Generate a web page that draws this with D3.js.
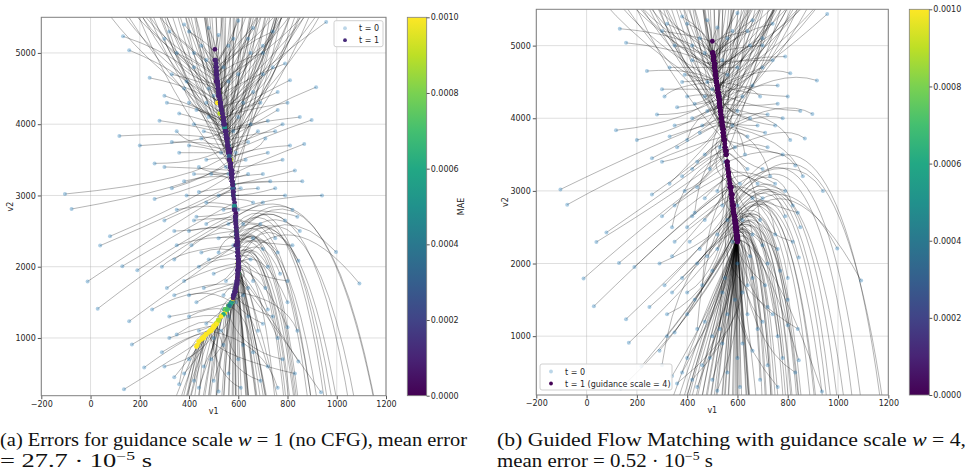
<!DOCTYPE html>
<html>
<head>
<meta charset="UTF-8" />
<style>
  body { margin: 0; background: #fff; }
  svg { display: block; }
  .tick text { font-family: "DejaVu Sans", sans-serif; font-size: 8px; fill: #262626; }
  .tick line { stroke: #555; }
  .grid line { stroke: #b0b0b0; stroke-opacity: 0.5; stroke-width: 0.8; }
  .traj { fill: none; stroke: #000; stroke-opacity: 0.37; stroke-width: 0.8; }
  .lab { font-family: "DejaVu Sans", sans-serif; font-size: 8px; fill: #262626; }
  .cap { font-family: "Liberation Serif", serif; font-size: 18px; fill: #111; }
</style>
<script src="https://d3js.org/d3.v7.min.js"></script>
</head>
<body>
<svg width="968" height="475"></svg>
<script>
// axis ticks
const xTicks = [-200, 0, 200, 400, 600, 800, 1000, 1200];
const yTicks = [1000, 2000, 3000, 4000, 5000];
const cbTicks = [0, 0.0002, 0.0004, 0.0006, 0.0008, 0.001];

// t = 0 positions (same noise in both runs), some lie outside the view
const starts = [
  [132,5233],[157,5038],[117,3835],[-104,3020],[-77,2810],[-12,1793],[29,1411],[79,2427],[39,2296],[129,2007],
  [190,1951],[157,1234],[168,908],[218,586],[136,279],[250,1400],[260,3450],[200,3700],[240,4650],[300,4400],
  [320,5300],[280,4050],[330,3100],[300,2650],[340,2100],[310,1700],[350,1050],[290,800],[340,450],[260,2950],
  [380,5400],[420,4800],[400,4300],[450,3800],[420,3300],[470,2900],[400,2500],[450,2200],[380,1800],[430,1500],
  [470,1200],[400,700],[460,600],[500,400],[520,5250],[480,4500],[530,3600],[520,3000],[500,1900],[540,900],
  [600,5450],[650,5000],[700,4700],[620,4300],[680,3900],[640,3300],[700,2900],[660,2400],[720,2000],[620,1600],
  [680,1100],[720,600],[760,4200],[780,3500],[750,3100],[790,4850],[740,5300],[600,2800],[580,3900],[640,1300],
  [957,5434],[916,4520],[898,4059],[868,3723],[810,4618],[940,3000],[1092,1765],[997,2208],[844,2083],[850,2500],
  [790,2650],[844,670],[936,237],[800,1500],[830,3350],[770,1900],[760,1000],[560,4600],[450,5100],[660,4450],
  [520,2400],[560,1300],[420,4000],[360,3600],[600,2000],
  [250,5800],[270,6300],[290,5700],[310,6100],[330,5900],[350,6500],[370,5700],[390,6200],[410,5800],[430,6400],
  [450,5900],[470,6100],[490,5700],[510,6300],[530,5800],[550,6000],[570,5700],[590,6200],[610,5900],[630,6400],
  [650,5700],[670,6100],[690,5800],[710,6300],[730,5900],[750,6200],[770,5700],[790,6000],[810,6400],[840,5800],
  [870,6100],[900,6300],[930,5900],[960,6500],[1000,6200],[300,6700],[420,7000],[520,6800],[600,7000],[680,6800],
  [760,7000],[850,6800],[380,5600],[460,5600],[540,5600],[620,5600],[700,5600],[780,5600],[440,6600],[560,6500],
  [640,6600],[720,6600],[820,6200],[580,5800],[500,6000],[660,6000],[400,6000],[740,5800],
  [250,-800],[280,-1400],[310,-500],[330,-1100],[350,-300],[370,-1500],[390,-700],[410,-1200],[430,-400],[450,-1000],
  [470,-1500],[490,-600],[510,-1100],[530,-300],[550,-900],[570,-1400],[590,-500],[610,-1000],[630,-1500],[650,-700],
  [670,-1200],[690,-400],[710,-900],[730,-1400],[750,-600],[770,-1100],[790,-300],[810,-800],[830,-1300],[850,-500],
  [870,-1000],[890,-1500],[910,-700],[940,-1200],[970,-400],[1000,-900],[1040,-1400],[1080,-600],[1130,-1100],[1200,-800],
  [300,-2000],[400,-2200],[500,-2400],[600,-2100],[700,-2500],[800,-2300],[900,-2600],[1000,-2200],[1100,-2500],[1250,-2000],
  [560,-200],[640,-250],[720,-200],[460,-250],[380,-200],[600,-1700],[680,-1900],[760,-1700],[520,-1800],[440,-1900],
  [860,-2000],[960,-1800],[340,-600],[580,-800],[660,-600],[740,-300],[820,-200],
  [350,5000],[390,4600],[360,4150],[480,4100],[330,3750],[470,3500],[380,3200],[440,3050],[350,2800],[420,2650],
  [350,2300],[440,2000],[340,1600],[400,1300],[320,1000],[380,500],[440,300],[560,500],[620,900],[660,1800],
  [700,2250],[620,2600],[680,3100],[720,3600],[640,3750],[720,4050],[760,4450],[700,5100],[660,5350],[560,5100],
  [470,4300],[600,4100],[560,3300],[560,2600],[540,1600],[750,2400],[820,2800],[800,1150],[720,1400],[780,4000],
  [100,5700],[140,6000],[180,5650],[210,5900],[150,6300],[230,6200],[60,6100],[200,5600],[260,6000],[120,5800],
  [280,5600],[20,5800],[170,5750],[240,5700],[90,6400],[800,5650],[850,5900],[880,5600],[920,5800],[780,5900],
  [830,6100],[900,6000],[760,5650],[950,5700],[870,5750],[720,5700],[810,5800],[990,5900],[740,6100],[860,6300],
  [300,5200],[330,4700],[310,4300],[350,3900],[300,3400],[340,2500],[290,2000],[320,1300],[300,600],[360,350],
  [400,5300],[420,5000],[380,4500],[430,4200],[400,3700],[440,3400],[390,3000],[430,2700],[410,2300],[400,1600],
  [440,1100],[420,400],[480,5350],[470,4900],[500,4400],[460,3900],[490,3300],[470,2600],[480,2100],[460,1700],
  [500,1000],[490,700],[540,4800],[530,4300],[550,3400],[540,2800],[520,2200],[550,1800],[530,1100],[520,250],
  [580,5200],[600,4700],[590,3600],[610,3100],[580,2300],[590,1500],[600,700],[610,300],[640,5200],[650,4000],
  [630,3500],[660,2900],[650,2100],[640,1700],[660,800],[700,5000],[690,4300],[710,3800],[700,3300],[690,2600],
  [710,1700],[700,1200],[690,400],[740,4800],[750,3900],[730,3200],[760,2200],[740,1300],[780,700],[760,300],
  [800,4300],[810,3700],[790,3000],[820,2300],[800,1800],[840,1100],[850,4100],[860,3200],[840,2700],[830,500]
];

// (a) w = 1: [bend x, bend y, t = 1 x, t = 1 y, MAE]
const pathA = [
  [420,4900,515,4300,0.001],[400,4700,525,4150,0.0009],[430,3900,555,3750,0.0003],[440,3200,565,3600,0.0001],[400,3100,570,3450,0.00008],
  [380,2700,580,3100,0.0001],[400,2400,590,2700,0.00006],[400,2900,575,3300,0.00012],[380,2800,580,3150,0.0006],[420,2600,585,2900,0.0001],
  [440,2500,590,2750,0.00005],[420,1900,590,2300,0.0001],[400,1400,530,1300,0.001],[420,1100,490,1100,0.001],[380,800,440,950,0.001],
  [450,1800,575,1500,0.0008],[470,3450,560,3700,0.0005],[460,3750,550,3900,0.0001],[460,4500,530,4200,0.0004],[470,4200,540,4050,0.0001],
  [470,4900,510,4600,0.00005],[480,3950,550,3850,0.00015],[480,3250,570,3500,0.0009],[460,2900,580,3100,0.0001],[480,2500,590,2650,0.0005],
  [470,2100,595,2300,0.0001],[450,1300,510,1200,0.0009],[430,1100,470,1050,0.001],[470,1000,545,1400,0.0005],[470,3150,575,3350,0.0001],
  [480,5000,505,4900,0.00005],[490,4550,520,4400,0.0001],[500,4100,540,4000,0.0002],[520,3650,560,3600,0.00008],[510,3300,575,3300,0.0001],
  [540,2900,585,2850,0.0006],[500,2600,592,2500,0.0001],[530,2300,598,2200,0.00008],[500,2000,598,2050,0.0009],[520,1700,590,1700,0.0003],
  [520,1350,560,1450,0.001],[470,950,460,1000,0.001],[520,1000,520,1250,0.0006],[560,1000,580,1600,0.0001],[510,5100,505,5050,0.00005],
  [510,4450,525,4350,0.0001],[555,3650,565,3650,0.0001],[560,3050,580,3050,0.0001],[560,2000,600,2000,0.0005],[560,1100,500,1150,0.001],
  [540,5000,510,4800,0.00005],[570,4700,520,4450,0.0001],[600,4400,535,4150,0.0001],[580,4100,545,3950,0.0003],[610,3700,560,3650,0.0006],
  [600,3250,575,3250,0.0001],[640,2800,588,2700,0.0001],[640,2500,597,2250,0.0004],[660,2400,600,2100,0.0001],[620,2000,600,1900,0.0007],
  [640,1900,595,1800,0.0002],[640,1500,585,1650,0.0003],[640,3950,555,3800,0.0001],[660,3400,570,3400,0.0001],[650,3000,580,3000,0.0007],
  [640,4650,520,4400,0.0001],[600,5100,510,4700,0.00005],[600,2850,585,2850,0.0001],[565,3850,555,3800,0.0001],[620,1900,598,1950,0.0001],
  [700,4800,530,4200,0.0001],[720,4250,550,3850,0.0001],[720,3850,565,3600,0.0001],[700,3500,575,3300,0.0001],[680,4400,535,4100,0.0009],
  [760,3000,585,2800,0.0001],[800,3000,600,2000,0.0001],[780,3000,598,2150,0.0006],[720,2900,600,2050,0.0001],[720,2900,595,2300,0.0001],
  [700,2900,592,2450,0.0005],[680,1600,598,1900,0.0001],[700,1400,596,1850,0.001],[700,2300,600,2050,0.0001],[720,3250,578,3150,0.0001],
  [700,2500,598,2150,0.0001],[660,1800,597,1950,0.0001],[530,4500,520,4450,0.0001],[490,4900,510,4750,0.0001],[590,4250,540,4050,0.0001],
  [570,2450,594,2400,0.0001],[600,1600,560,1450,0.0004],[510,3950,548,3900,0.0001],[480,3600,562,3600,0.0001],[610,2100,600,2050,0.0001],
  [371,4600,553,3800,0.0001],[386,4680,561,3600,0.0001],[391,4680,543,4000,0.0001],[409,4660,557,3700,0.0001],[411,4880,533,4200,0.0006],
  [429,4940,548,3900,0.0001],[431,4920,522,4400,0.0001],[449,4940,538,4100,0.0001],[452,5080,515,4600,0.0001],[469,5140,527,4300,0.0001],
  [474,5240,510,4800,0.0001],[489,5140,518,4500,0.0001],[497,5220,508,4900,0.0001],[511,5340,512,4700,0.0001],[531,4840,533,4200,0.001],
  [547,4800,543,4000,0.0001],[563,4560,553,3800,0.0001],[578,4640,561,3600,0.0001],[575,5000,522,4400,0.0001],[593,5020,538,4100,0.0001],
  [595,5100,512,4700,0.0001],[621,4780,548,3900,0.0001],[640,4420,565,3500,0.0001],[637,5100,527,4300,0.0001],[661,4580,557,3700,0.0001],
  [657,5180,518,4500,0.0001],[679,4680,543,4000,0.0005],[698,4560,561,3600,0.0001],[699,5080,533,4200,0.0001],[725,4600,553,3800,0.0001],
  [731,5080,522,4400,0.0001],[766,4620,565,3500,0.0001],[773,4820,538,4100,0.0001],[799,4820,557,3700,0.0001],[811,5060,527,4300,0.0001],
  [387,5380,518,4500,0.0001],[469,5200,543,4000,0.0001],[538,4820,565,3500,0.0001],[571,5380,527,4300,0.0001],[614,5480,515,4600,0.0001],
  [675,5140,548,3900,0.0001],[715,5540,512,4700,0.0001],[454,4340,565,3500,0.0001],[499,4460,557,3700,0.0008],[553,4220,572,3300,0.0001],
  [599,4280,568,3400,0.0001],[635,4700,538,4100,0.0001],[697,4220,572,3300,0.0001],[485,4920,553,3800,0.0001],[540,5480,510,4800,0.0001],
  [607,4860,557,3700,0.0001],[649,5040,543,4000,0.0001],[711,4820,548,3900,0.0001],[578,4240,575,3200,0.0001],[527,4440,568,3400,0.0009],
  [626,4320,575,3200,0.0001],[469,4380,572,3300,0.0001],[675,4180,578,3100,0.0001],
  [336,163,440,950,0.001],[348,-146,430,880,0.001],[375,325,455,1000,0.0009],[392,83,468,1050,0.001],[411,470,485,1100,0.0006],
  [408,-125,455,1000,0.001],[440,318,500,1150,0.001],[456,120,512,1200,0.0008],[470,508,520,1250,0.001],[486,265,530,1300,0.0005],
  [504,68,545,1350,0.001],[519,500,555,1400,0.0009],[533,303,562,1450,0.0006],[549,690,572,1500,0.0004],[563,448,578,1550,0.001],
  [575,250,582,1600,0.0002],[589,683,587,1650,0.0001],[601,485,590,1700,0.0001],[613,288,593,1750,0.0003],[625,675,595,1800,0.0001],
  [637,478,597,1850,0.0001],[649,865,598,1900,0.0001],[660,668,599,1950,0.00008],[672,470,600,2000,0.0001],[683,858,600,2050,0.0001],
  [694,660,600,2100,0.0001],[704,1048,599,2150,0.0001],[736,2530,598,2200,0.0001],[749,2640,598,2250,0.0001],[761,2750,597,2300,0.0001],
  [774,2860,596,2350,0.0001],[787,2970,595,2400,0.0001],[799,3080,594,2450,0.0006],[818,3220,592,2500,0.0001],[837,3360,591,2550,0.0001],
  [857,3500,590,2600,0.0001],[884,3420,595,2400,0.0001],[909,3640,592,2500,0.0001],[943,3590,597,2300,0.0001],[988,3950,594,2450,0.0001],
  [360,-405,434,900,0.001],[427,-429,460,1020,0.001],[507,-409,515,1220,0.0009],[591,-76,580,1580,0.0003],[654,-97,597,1870,0.0001],
  [730,2300,600,2000,0.0001],[795,2750,599,2150,0.0001],[860,3150,598,2250,0.0001],[924,3550,596,2350,0.0001],[1020,4150,592,2500,0.0001],
  [564,724,569,1480,0.0006],[618,834,591,1720,0.0001],[666,983,599,1950,0.0001],[494,614,535,1320,0.001],[430,526,492,1120,0.001],
  [593,126,584,1620,0.0002],[642,146,596,1820,0.0001],[688,379,600,2080,0.0001],[538,-23,560,1430,0.0008],[470,-206,507,1180,0.001],
  [768,2680,598,2200,0.0001],[833,3100,596,2320,0.0001],[390,269,450,980,0.001],[580,498,579,1560,0.0001],[630,709,594,1780,0.0001],
  [677,954,600,1980,0.0001],[743,2480,600,2120,0.0001],
  [470,4800,514,4640,0.0001],[480,4400,527,4300,0.0001],[480,4050,545,3950,0.0001],[520,4000,545,3950,0.0005],[470,3750,557,3700,0.0001],
  [530,3550,565,3500,0.0001],[490,3300,573,3250,0.0001],[520,3100,578,3100,0.0003],[480,2900,585,2800,0.0001],[510,2700,589,2650,0.0001],
  [480,2450,595,2400,0.0001],[530,2150,600,2100,0.0001],[480,1800,592,1750,0.0002],[480,1450,548,1400,0.0008],[440,1150,500,1170,0.001],
  [460,800,480,1080,0.001],[500,900,540,1330,0.0006],[580,1100,588,1650,0.0001],[610,1400,596,1760,0.0001],[640,2200,600,2050,0.0001],
  [660,2600,597,2300,0.0004],[610,2700,592,2550,0.0001],[630,3100,580,3050,0.0001],[640,3550,568,3450,0.0001],[600,3700,560,3650,0.0001],
  [640,3950,550,3900,0.0001],[660,4300,540,4080,0.0001],[620,4900,520,4450,0.0001],[580,5100,512,4750,0.0001],[530,4950,510,4850,0.0001],
  [510,4200,535,4150,0.0001],[580,4000,550,3900,0.0001],[570,3300,573,3250,0.0001],[580,2650,590,2600,0.0001],[580,1800,590,1700,0.0001],
  [700,2800,596,2350,0.0001],[720,3000,588,2700,0.0001],[700,1900,600,1980,0.0001],[660,2000,600,2000,0.0001],[660,3800,557,3700,0.0001],
  [249,4930,527,4300,0.0001],[281,4900,543,4000,0.0001],[298,5017,518,4500,0.0001],[330,4745,553,3800,0.0001],[294,4815,561,3600,0.0001],
  [336,5100,533,4200,0.0007],[231,4890,548,3900,0.0001],[309,5105,512,4700,0.0001],[368,4570,568,3400,0.0001],[258,5140,515,4600,0.0001],
  [378,4500,561,3600,0.0001],[201,4865,538,4100,0.0001],[311,4402,572,3300,0.0001],[335,5205,510,4800,0.0001],[241,5300,522,4400,0.0001],
  [704,4907,527,4300,0.0001],[744,4800,548,3900,0.0001],[752,5050,515,4600,0.0001],[794,4590,561,3600,0.0001],[706,4525,568,3400,0.0001],
  [728,5000,538,4100,0.0001],[766,5175,518,4500,0.0001],[688,4632,553,3800,0.0001],[804,4875,533,4200,0.0001],[760,4622,557,3700,0.0001],
  [647,5150,512,4700,0.0001],[705,5250,510,4800,0.0001],[835,4800,548,3900,0.0001],[679,4670,565,3500,0.0001],[749,5035,543,4000,0.0001],
  [343,4680,517,4550,0.0001],[635,4450,533,4200,0.0001],[500,4220,548,3900,0.0001],[392,3700,559,3650,0.0001],[708,3350,572,3300,0.0001],
  [539,2530,589,2650,0.0001],[351,2240,597,2300,0.0001],[732,1550,595,1800,0.0001],[484,740,530,1300,0.001],[388,990,500,1150,0.001],
  [573,4950,515,4600,0.0001],[502,4880,522,4400,0.0001],[412,4140,540,4050,0.0001],[611,4025,551,3850,0.0001],[532,3660,565,3500,0.0001],
  [466,3320,572,3300,0.0001],[675,3000,580,3000,0.0006],[554,2720,585,2800,0.0001],[446,2460,592,2500,0.0001],[700,1800,600,2000,0.0001],
  [558,1210,587,1650,0.0001],[438,1040,512,1200,0.0009],[530,5000,513,4650,0.0001],[514,4790,525,4350,0.0001],[509,4080,543,4000,0.0001],
  [609,3775,559,3650,0.0001],[558,3280,575,3200,0.0001],[494,2680,588,2700,0.0001],[654,2225,596,2350,0.0001],[572,1780,600,2100,0.0001],
  [516,1480,582,1600,0.0001],[588,1050,555,1400,0.0006],[532,4690,530,4250,0.0001],[534,3980,548,3900,0.0001],[583,3350,572,3300,0.0001],
  [575,2810,584,2850,0.0005],[535,2400,594,2450,0.0001],[624,1975,599,2150,0.0001],[576,1210,587,1650,0.0001],[513,930,485,1100,0.001],
  [485,4875,517,4550,0.0001],[546,4600,533,4200,0.0001],[586,3440,568,3400,0.0001],[563,3075,579,3050,0.0001],[590,2340,592,2500,0.0007],
  [592,1860,599,1950,0.0001],[532,1050,555,1400,0.0008],[510,460,485,1100,0.001],[615,4680,517,4550,0.0001],[510,3850,557,3700,0.0001],
  [582,3470,570,3350,0.0001],[644,2940,582,2950,0.0001],[569,2225,596,2350,0.0001],[608,1780,600,2100,0.0001],[641,1320,564,1450,0.0004],
  [433,4700,522,4400,0.0001],[576,4220,548,3900,0.0001],[681,3600,563,3550,0.0003],[512,3250,575,3200,0.0001],[608,2620,588,2700,0.0001],
  [688,2020,600,2100,0.0001],[539,1475,593,1750,0.0001],[548,560,512,1200,0.001],[698,4360,530,4250,0.0001],[463,3775,559,3650,0.0001],
  [608,3190,577,3150,0.0001],[727,2400,594,2450,0.0001],[522,1550,595,1800,0.0001],[600,840,555,1400,0.0007],[705,940,485,1100,0.001],
  [422,4100,548,3900,0.0001],[614,3660,565,3500,0.0001],[748,3000,580,3000,0.0001],[478,2400,592,2500,0.0001],[639,1870,599,2150,0.0001],
  [789,1540,587,1650,0.0001],[407,3925,555,3750,0.0001],[634,3190,577,3150,0.0001],[789,2780,585,2800,0.0001],[365,875,520,1250,0.0009]
];

// (b) w = 4: [bend x, bend y, t = 1 x, t = 1 y]
const pathB = [
  [420,5150,505,4800],[400,4950,508,4700],[420,3950,525,4350],[300,3700,535,4000],[280,3500,545,3750],
  [350,2900,560,3350],[380,2600,570,3100],[360,3100,550,3600],[370,3000,555,3500],[400,2800,565,3200],
  [420,2700,570,3050],[450,2200,585,2700],[470,1900,590,2550],[490,1700,595,2450],[470,1400,598,2400],
  [480,2100,590,2600],[440,3750,535,4050],[430,3900,530,4250],[430,4700,515,4500],[440,4400,522,4400],
  [460,5100,505,4850],[450,4050,528,4300],[460,3550,540,3900],[450,3100,555,3500],[470,2600,570,3050],
  [480,2300,580,2800],[510,1900,595,2450],[500,1700,597,2380],[520,1500,598,2350],[450,3400,545,3750],
  [480,5200,502,4900],[480,4750,512,4600],[470,4350,525,4300],[500,3900,540,3900],[490,3600,550,3650],
  [520,3100,565,3200],[500,2800,575,2950],[530,2500,585,2700],[520,2300,590,2600],[540,2000,595,2500],
  [560,1800,598,2400],[560,1500,600,2320],[580,1400,600,2300],[590,1300,600,2330],[505,5150,500,5060],
  [505,4550,515,4550],[545,3800,545,3800],[555,3300,565,3250],[570,2300,592,2600],[590,1600,600,2360],
  [540,5150,505,4800],[560,4800,512,4650],[590,4550,520,4450],[570,4250,528,4250],[600,3900,540,3950],
  [590,3450,555,3550],[630,3100,575,3050],[640,2800,590,2650],[680,2700,595,2500],[630,2400,598,2420],
  [650,2300,600,2350],[660,2200,600,2310],[640,4150,530,4200],[660,3600,550,3700],[660,3300,565,3250],
  [640,4850,510,4700],[600,5200,505,4850],[600,3000,570,3100],[560,3950,538,3950],[640,2200,600,2380],
  [720,4700,525,4300],[760,4700,532,4150],[780,4300,545,3850],[780,3950,555,3550],[700,4750,522,4400],
  [830,3600,575,3050],[800,3600,598,2450],[790,3500,595,2550],[740,3400,596,2500],[760,3400,590,2650],
  [720,3400,585,2800],[700,2300,600,2340],[730,2300,600,2320],[720,2800,598,2450],[760,3700,560,3400],
  [720,3000,593,2550],[700,2500,600,2370],[520,4650,512,4650],[490,5000,505,4800],[580,4400,522,4350],
  [570,2650,585,2700],[610,2000,600,2380],[480,4100,530,4150],[460,3800,538,3950],[610,2400,596,2500],
  [363,4780,532,4100],[378,4860,540,3900],[384,4860,525,4300],[400,4840,536,4000],[405,5060,517,4500],
  [421,5120,528,4200],[427,5040,513,4600],[442,5120,521,4400],[450,5170,511,4750],[465,5260,517,4500],
  [472,5270,504,4850],[486,5230,511,4650],[495,5220,502,4900],[508,5400,506,4800],[523,4990,513,4600],
  [538,5070,519,4450],[552,4860,525,4300],[566,4970,530,4150],[570,5180,509,4700],[585,5260,517,4500],
  [592,5160,506,4800],[611,5050,523,4350],[628,4750,534,4050],[632,5250,515,4550],[649,4880,528,4200],
  [654,5300,509,4700],[670,4920,521,4400],[689,4770,538,3950],[691,5320,513,4600],[715,4870,527,4250],
  [726,5230,511,4650],[757,4830,542,3850],[766,5030,519,4450],[789,5060,532,4100],[806,5210,515,4550],
  [384,5500,509,4700],[460,5440,521,4400],[526,5030,536,4000],[565,5560,513,4600],[611,5570,508,4750],
  [666,5380,525,4300],[712,5630,504,4850],[445,4520,543,3800],[489,4700,532,4100],[543,4460,547,3700],
  [588,4580,540,3900],[628,4880,521,4400],[687,4460,547,3700],[475,5160,528,4200],[538,5510,504,4850],
  [598,5070,534,4050],[641,5250,523,4350],[703,5000,528,4200],[569,4450,553,3550],[517,4680,543,3800],
  [616,4560,551,3600],[459,4620,547,3700],[666,4420,555,3500],
  [407,922,599,2330],[424,646,599,2320],[440,1062,598,2340],[452,776,600,2310],[462,1158,598,2350],
  [473,601,599,2320],[484,983,598,2360],[495,742,599,2330],[505,1124,597,2370],[517,837,598,2340],
  [527,634,597,2380],[539,1023,598,2350],[549,820,597,2390],[561,1163,598,2360],[571,915,596,2400],
  [582,674,597,2370],[593,1101,596,2410],[604,859,597,2380],[614,656,595,2420],[626,1000,597,2390],
  [636,797,595,2430],[648,1140,596,2400],[677,2680,595,2440],[691,2730,596,2410],[705,2850,594,2450],
  [719,2900,595,2420],[733,3020,594,2460],[747,3120,593,2480],[761,3220,592,2500],[775,3320,592,2520],
  [789,3430,591,2550],[803,3540,589,2580],[817,3640,589,2600],[838,3800,587,2640],[859,3960,586,2680],
  [880,4120,584,2720],[908,4320,583,2760],[936,4520,581,2800],[971,4770,579,2850],[1020,5100,577,2900],
  [435,382,599,2330],[489,297,598,2340],[544,213,598,2350],[599,353,598,2360],[654,184,597,2380],
  [740,3020,595,2420],[810,3460,594,2460],[880,3960,591,2560],[950,4450,587,2650],[1055,5180,582,2780],
  [578,1192,599,2330],[621,1180,598,2350],[684,2650,597,2370],[523,1164,599,2320],[479,1181,600,2310],
  [598,577,595,2440],[641,498,594,2460],[712,2940,592,2500],[554,521,595,2420],[510,465,596,2400],
  [782,3380,591,2540],[852,3840,589,2600],[457,1006,599,2320],[588,949,597,2380],[631,1050,596,2400],
  [698,2790,595,2430],[754,3150,594,2470],
  [460,4950,508,4700],[470,4550,517,4500],[460,4200,528,4250],[510,4150,530,4180],[450,3900,538,3950],
  [520,3700,548,3700],[480,3500,555,3550],[510,3350,560,3400],[470,3100,565,3250],[500,2900,572,3050],
  [480,2700,578,2900],[530,2400,588,2650],[500,2200,592,2550],[520,2000,596,2450],[500,1800,598,2400],
  [540,1500,600,2340],[560,1300,600,2320],[590,1500,600,2330],[610,1800,599,2370],[650,2600,595,2480],
  [680,2900,592,2580],[620,2900,586,2700],[630,3300,568,3150],[650,3700,555,3550],[600,3850,545,3750],
  [640,4100,536,4000],[660,4500,527,4250],[620,5000,512,4600],[580,5200,506,4800],[530,5000,504,4870],
  [500,4300,522,4350],[570,4100,534,4100],[560,3450,556,3500],[580,2800,583,2750],[590,2100,598,2420],
  [720,3200,589,2650],[760,3500,580,2950],[720,2600,597,2420],[680,2500,596,2450],[680,4100,542,3800],
  [246,5040,517,4500],[275,5065,525,4300],[296,5100,511,4650],[321,4965,528,4200],[285,5035,536,4000],
  [331,5237,519,4450],[225,5000,532,4100],[307,5160,506,4800],[359,4790,543,3800],[256,5195,509,4700],
  [371,4665,540,3900],[196,5002,523,4350],[302,4622,547,3700],[332,5260,502,4900],[238,5410,513,4600],
  [701,5017,517,4500],[737,4965,528,4200],[750,5105,509,4700],[786,4810,536,4000],[697,4745,543,3800],
  [722,5165,521,4400],[764,5257,511,4650],[680,4797,532,4100],[799,5012,519,4450],[754,4760,538,3950],
  [645,5205,506,4800],[702,5305,502,4900],[828,4992,527,4250],[671,4862,542,3850],[743,5200,525,4300],
  [603,5050,502,4900],[473,4700,509,4700],[351,4460,517,4500],[613,4100,525,4300],[489,3520,536,4000],
  [383,3300,555,3500],[701,2625,564,3250],[527,1610,579,2850],[359,2080,594,2450],[719,1340,599,2330],
  [482,5220,502,4900],[437,4880,504,4850],[580,4550,513,4600],[501,4250,519,4450],[426,4060,530,4150],
  [584,3700,536,4000],[512,3160,543,3800],[454,3420,551,3600],[632,2850,558,3400],[539,1880,574,3000],
  [469,2420,583,2750],[687,1375,598,2350],[498,5260,502,4900],[477,4820,506,4800],[523,4475,515,4550],
  [512,3980,525,4300],[500,3820,538,3950],[595,3075,553,3550],[546,2340,562,3300],[482,2780,572,3050],
  [628,1850,585,2700],[572,1060,592,2500],[534,4760,508,4750],[510,4400,517,4500],[539,3520,536,4000],
  [541,3520,547,3700],[580,2775,560,3350],[566,2060,570,3100],[541,2420,583,2750],[640,1280,600,2310],
  [518,5140,502,4900],[582,4700,509,4700],[503,3850,532,4100],[556,3250,542,3850],[576,3180,558,3400],
  [567,2225,575,2950],[594,1060,592,2500],[608,1900,600,2300],[433,5050,502,4900],[548,4070,523,4350],
  [611,3940,534,4050],[487,3325,545,3750],[580,2340,562,3300],[626,2780,572,3050],[556,1675,591,2550],
  [543,4970,504,4850],[655,4460,517,4500],[437,4000,528,4200],[570,3430,538,3950],[663,3360,553,3550],
  [503,2375,572,3050],[605,1520,581,2800],[672,1960,598,2350],[392,4775,508,4750],[570,3980,525,4300],
  [692,3760,540,3900],[460,2775,560,3350],[611,1610,579,2850],[742,2140,592,2500],[520,1300,600,2300],
  [574,4340,517,4500],[754,4060,530,4150],[419,3400,543,3800],[610,2520,558,3400],[754,2840,570,3100],
  [455,1925,583,2750],[587,4160,521,4400],[796,3760,540,3900],[406,3150,551,3600],[643,882,596,2410]
];

const svg = d3.select("svg");
const color = d3.scaleSequential(d3.interpolateViridis).domain([0, 0.001]);

function drawPanel(id, box, cb, ends, maeOf, legend) {
  const x = d3.scaleLinear().domain([-200, 1200]).range([box.l, box.r]);
  const y = d3.scaleLinear().domain([190, 5500]).range([box.b, box.t]);
  const g = svg.append("g");
  const n = Math.min(starts.length, ends.length);
  const rows = ends.slice(0, n);

  g.append("clipPath").attr("id", "clip" + id)
    .append("rect").attr("x", box.l).attr("y", box.t)
    .attr("width", box.r - box.l).attr("height", box.b - box.t);

  const grid = g.append("g").attr("class", "grid");
  grid.selectAll(".gx").data(xTicks).enter().append("line")
    .attr("x1", d => x(d)).attr("x2", d => x(d)).attr("y1", box.t).attr("y2", box.b);
  grid.selectAll(".gy").data(yTicks).enter().append("line")
    .attr("y1", d => y(d)).attr("y2", d => y(d)).attr("x1", box.l).attr("x2", box.r);

  const plot = g.append("g").attr("clip-path", "url(#clip" + id + ")");
  plot.selectAll("path.traj").data(rows).enter().append("path")
    .attr("class", "traj")
    .attr("d", (d, i) => {
      const s = starts[i];
      const p = d3.path();
      p.moveTo(x(s[0]), y(s[1]));
      p.quadraticCurveTo(x(d[0]), y(d[1]), x(d[2]), y(d[3]));
      return p.toString();
    });
  plot.selectAll("circle.t0").data(starts).enter().append("circle")
    .attr("cx", d => x(d[0])).attr("cy", d => y(d[1])).attr("r", 2)
    .attr("fill", "#1f77b4").attr("fill-opacity", 0.36);
  plot.selectAll("circle.t1").data(rows).enter().append("circle")
    .attr("cx", d => x(d[2])).attr("cy", d => y(d[3])).attr("r", 2.4)
    .attr("fill", d => color(maeOf(d)));

  g.append("g").attr("class", "axis").attr("transform", "translate(0," + box.b + ")")
    .call(d3.axisBottom(x).tickValues(xTicks).tickSize(3.5).tickPadding(2).tickFormat(d3.format("d")));
  g.append("g").attr("class", "axis").attr("transform", "translate(" + box.l + ",0)")
    .call(d3.axisLeft(y).tickValues(yTicks).tickSize(3.5).tickPadding(2).tickFormat(d3.format("d")));
  g.selectAll(".axis .domain").remove();
  g.append("rect").attr("x", box.l).attr("y", box.t)
    .attr("width", box.r - box.l).attr("height", box.b - box.t)
    .attr("fill", "none").attr("stroke", "#808080").attr("stroke-width", 1);

  g.append("text").attr("class", "lab").attr("x", (box.l + box.r) / 2).attr("y", box.b + 18)
    .attr("text-anchor", "middle").text("v1");
  g.append("text").attr("class", "lab")
    .attr("transform", "translate(" + (box.l - 28) + "," + ((box.t + box.b) / 2) + ") rotate(-90)")
    .attr("text-anchor", "middle").text("v2");

  // legend
  const lg = g.append("g");
  lg.append("rect").attr("x", legend.x).attr("y", legend.y).attr("width", legend.w).attr("height", 26)
    .attr("rx", 2).attr("fill", "#fff").attr("fill-opacity", 0.85).attr("stroke", "#d0d0d0");
  legend.items.forEach((it, i) => {
    lg.append("circle").attr("cx", legend.x + 11).attr("cy", legend.y + 7.5 + i * 12).attr("r", 1.9)
      .attr("fill", it.fill).attr("fill-opacity", it.op);
    lg.append("text").attr("class", "lab").attr("x", legend.x + 25).attr("y", legend.y + 10.5 + i * 12)
      .text(it.label);
  });

  // colorbar
  const cy = d3.scaleLinear().domain([0, 0.001]).range([box.b, box.t]);
  const grad = g.append("defs").append("linearGradient").attr("id", "grad" + id)
    .attr("x1", 0).attr("y1", 1).attr("x2", 0).attr("y2", 0);
  d3.range(0, 1.0001, 0.1).forEach(t => {
    grad.append("stop").attr("offset", t).attr("stop-color", color(t * 0.001));
  });
  g.append("rect").attr("x", cb.l).attr("y", box.t).attr("width", cb.r - cb.l).attr("height", box.b - box.t)
    .attr("fill", "url(#grad" + id + ")").attr("stroke", "#808080").attr("stroke-width", 0.8);
  g.append("g").attr("transform", "translate(" + cb.r + ",0)")
    .call(d3.axisRight(cy).tickValues(cbTicks).tickSize(3).tickPadding(1).tickFormat(d3.format(".4f")))
    .select(".domain").remove();
  if (cb.label) {
    g.append("text").attr("class", "lab")
      .attr("transform", "translate(" + (cb.r + 37) + "," + ((box.t + box.b) / 2) + ") rotate(-90)")
      .attr("text-anchor", "middle").text(cb.label);
  }
}

drawPanel("a", { l: 41.3, r: 386, t: 17.3, b: 395.7 }, { l: 407.3, r: 426.7, label: "MAE" },
  pathA, d => d[4],
  { x: 334, y: 20.7, w: 49, items: [
    { fill: "#1f77b4", op: 0.3, label: "t = 0" },
    { fill: color(0.00012), op: 1, label: "t = 1" }] });

drawPanel("b", { l: 536.3, r: 888.3, t: 9.3, b: 395 }, { l: 909.3, r: 929.3, label: null },
  pathB, d => 0.00001,
  { x: 540, y: 364, w: 132, items: [
    { fill: "#1f77b4", op: 0.3, label: "t = 0" },
    { fill: color(0.00001), op: 1, label: "t = 1 (guidance scale = 4)" }] });

// captions
function caption(x, yy, parts, len) {
  const t = svg.append("text").attr("class", "cap").attr("x", x).attr("y", yy);
  parts.forEach(p => {
    const s = t.append("tspan").text(p.t);
    if (p.i) s.attr("font-style", "italic");
    if (p.sup) s.attr("font-size", 12).attr("dy", -7);
    if (p.down) s.attr("dy", 7);
  });
  t.attr("textLength", len).attr("lengthAdjust", "spacingAndGlyphs");
}
caption(0, 446, [{ t: "(a) Errors for guidance scale " }, { t: "w", i: 1 }, { t: " = 1 (no CFG), mean error" }], 467);
caption(0, 467, [{ t: "= 27.7 · 10" }, { t: "−5", sup: 1 }, { t: " s", down: 1 }], 152);
caption(497, 446, [{ t: "(b) Guided Flow Matching with guidance scale " }, { t: "w", i: 1 }, { t: " = 4," }], 469);
caption(497, 467, [{ t: "mean error = 0.52 · 10" }, { t: "−5", sup: 1 }, { t: " s", down: 1 }], 216);
</script>
</body>
</html>
